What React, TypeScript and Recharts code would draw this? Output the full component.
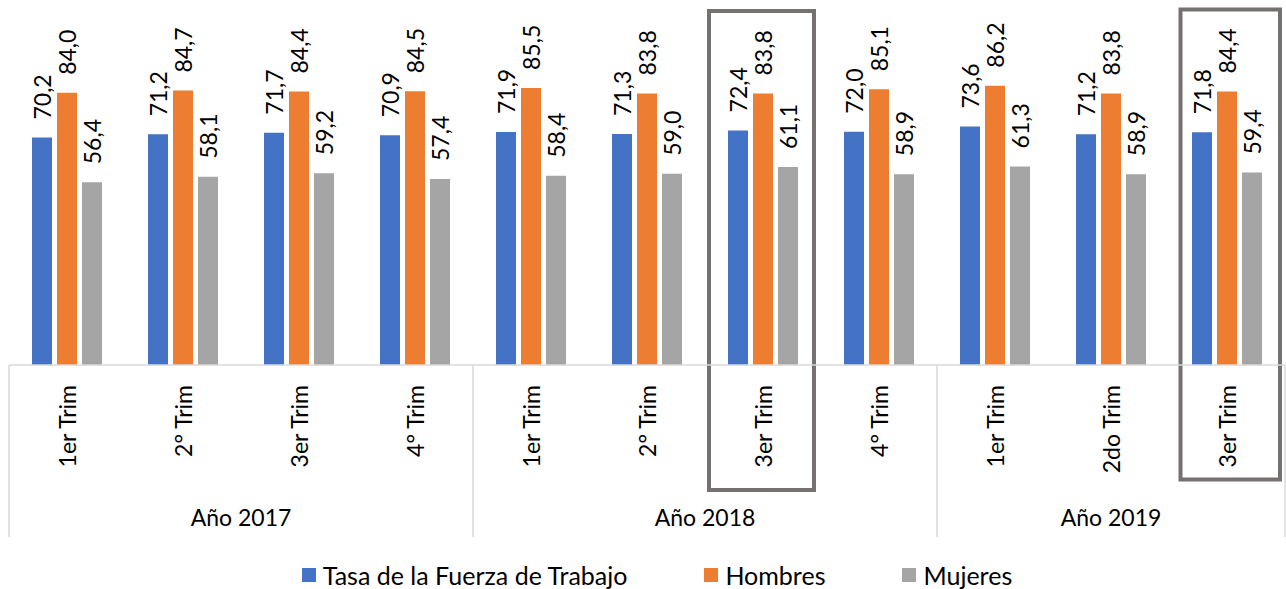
import { BarChart, Bar, XAxis, YAxis, LabelList, Legend, ReferenceArea } from "recharts"

const keys = ["2017-1", "2017-2", "2017-3", "2017-4", "2018-1", "2018-2", "2018-3", "2018-4", "2019-1", "2019-2", "2019-3"]
const trimestres = ["1er Trim", "2° Trim", "3er Trim", "4° Trim", "1er Trim", "2° Trim", "3er Trim", "4° Trim", "1er Trim", "2do Trim", "3er Trim"]
const years = ["Año 2017", "Año 2018", "Año 2019"]
const yearSpans = [4, 4, 3]

const tasa = [70.2, 71.2, 71.7, 70.9, 71.9, 71.3, 72.4, 72.0, 73.6, 71.2, 71.8]
const hombres = [84.0, 84.7, 84.4, 84.5, 85.5, 83.8, 83.8, 85.1, 86.2, 83.8, 84.4]
const mujeres = [56.4, 58.1, 59.2, 57.4, 58.4, 59.0, 61.1, 58.9, 61.3, 58.9, 59.4]

const highlighted = ["2018-3", "2019-3"]

const W = 1286
const H = 589
const M = { top: 41, right: 1, bottom: 0, left: 9 }
const BAND = (W - M.left - M.right) / keys.length

const BLUE = "#4472C4"
const ORANGE = "#ED7D31"
const GRAY = "#A5A5A5"
const AXIS = "#D9D9D9"

const data = keys.map((k, i) => ({
  key: k,
  trim: trimestres[i],
  tasa: tasa[i],
  hombres: hombres[i],
  mujeres: mujeres[i],
}))

const groupStarts = yearSpans.map((_, g) => yearSpans.slice(0, g).reduce((a, b) => a + b, 0))

const fmt = (v: number) => v.toFixed(1).replace(".", ",")

function BarLabel(props: any) {
  const { x, y, width, value } = props
  const cx = x + width / 2
  const ty = y - 18
  return (
    <text
      x={cx}
      y={ty}
      transform={`rotate(-90 ${cx} ${ty})`}
      textAnchor="start"
      dominantBaseline="central"
      fontSize={23}
      fill="#000"
    >
      {fmt(value)}
    </text>
  )
}

function AxisTick(props: any) {
  const { x, y, index } = props
  const g = groupStarts.indexOf(index)
  const lineLen = 172
  return (
    <g>
      <text
        x={x}
        y={y + 20}
        transform={`rotate(-90 ${x} ${y + 20})`}
        textAnchor="end"
        dominantBaseline="central"
        fontSize={23}
        fill="#000"
      >
        {trimestres[index]}
      </text>
      {g >= 0 && (
        <>
          <line x1={x - BAND / 2} x2={x - BAND / 2} y1={y} y2={y + lineLen} stroke={AXIS} strokeWidth={1.5} />
          <text
            x={x + ((yearSpans[g] - 1) / 2) * BAND}
            y={y + 152}
            textAnchor="middle"
            dominantBaseline="central"
            fontSize={23}
            fill="#000"
          >
            {years[g]}
          </text>
        </>
      )}
      {index === keys.length - 1 && (
        <line x1={x + BAND / 2} x2={x + BAND / 2} y1={y} y2={y + lineLen} stroke={AXIS} strokeWidth={1.5} />
      )}
    </g>
  )
}

function HighlightBox(props: any, inset: { l: number; r: number; t: number; b: number }) {
  const { x, y, width, height } = props
  return (
    <rect
      x={x + inset.l}
      y={y - inset.t}
      width={width - inset.l - inset.r}
      height={height + inset.t + inset.b}
      fill="none"
      stroke="#767171"
      strokeWidth={4}
    />
  )
}

function LegendContent() {
  const items = [
    { name: "Tasa de la Fuerza de Trabajo", color: BLUE },
    { name: "Hombres", color: ORANGE },
    { name: "Mujeres", color: GRAY },
  ]
  return (
    <div style={{ height: 44, display: "flex", justifyContent: "center", alignItems: "flex-end", gap: 77, paddingLeft: 20 }}>
      {items.map((it) => (
        <div key={it.name} style={{ display: "flex", alignItems: "center", gap: 7, fontSize: 25, lineHeight: "28px", marginBottom: 0 }}>
          <span style={{ width: 14, height: 14, background: it.color, display: "inline-block" }} />
          <span>{it.name}</span>
        </div>
      ))}
    </div>
  )
}

export default function App() {
  return (
    <div style={{ position: "absolute", left: 0, top: 0, width: W, height: H, background: "#fff", fontFamily: "Lato, sans-serif" }}>
      <BarChart width={W} height={H} data={data} margin={M} barSize={20} barGap={5}>
        <XAxis
          dataKey="key"
          interval={0}
          height={180}
          tickSize={0}
          tickMargin={0}
          tickLine={false}
          axisLine={{ stroke: AXIS, strokeWidth: 1.5 }}
          tick={AxisTick}
        />
        <YAxis hide domain={[0, 100]} />
        <Legend verticalAlign="bottom" height={44} content={LegendContent} />
        <Bar dataKey="tasa" name="Tasa de la Fuerza de Trabajo" fill={BLUE} isAnimationActive={false}>
          <LabelList dataKey="tasa" content={BarLabel} />
        </Bar>
        <Bar dataKey="hombres" name="Hombres" fill={ORANGE} isAnimationActive={false}>
          <LabelList dataKey="hombres" content={BarLabel} />
        </Bar>
        <Bar dataKey="mujeres" name="Mujeres" fill={GRAY} isAnimationActive={false}>
          <LabelList dataKey="mujeres" content={BarLabel} />
        </Bar>
        <ReferenceArea
          x1={highlighted[0]}
          x2={highlighted[0]}
          y1={0}
          y2={100}
          ifOverflow="visible"
          shape={(p: any) => HighlightBox(p, { l: 4, r: 7, t: 30, b: 125 })}
        />
        <ReferenceArea
          x1={highlighted[1]}
          x2={highlighted[1]}
          y1={0}
          y2={100}
          ifOverflow="visible"
          shape={(p: any) => HighlightBox(p, { l: 11.5, r: 5, t: 31.5, b: 114.5 })}
        />
      </BarChart>
    </div>
  )
}
